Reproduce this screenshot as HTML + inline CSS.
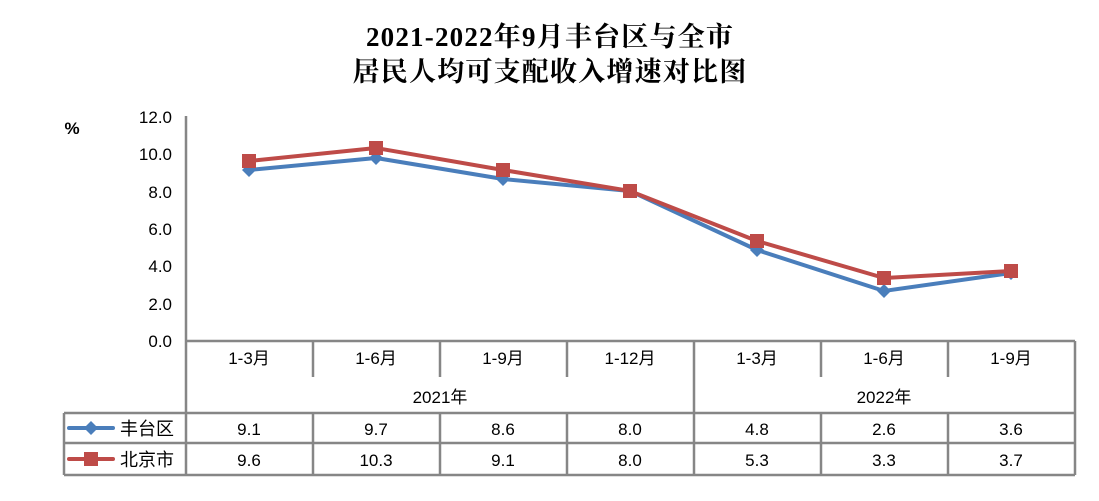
<!DOCTYPE html>
<html><head><meta charset="utf-8"><style>
body{margin:0;background:#fff;}
svg{display:block}
text{font-family:"Liberation Sans","Noto Sans CJK SC",sans-serif;fill:#000}
</style></head><body>
<svg width="1099" height="501" viewBox="0 0 1099 501" xmlns="http://www.w3.org/2000/svg">
<g font-size="27" font-weight="bold" text-anchor="middle" letter-spacing="1.2">
<text x="550" y="46" style="font-family:'Liberation Serif','Noto Serif CJK SC',serif">2021-2022年9月丰台区与全市</text>
<text x="550" y="81" style="font-family:'Liberation Serif','Noto Serif CJK SC',serif">居民人均可支配收入增速对比图</text>
</g>
<text x="72" y="134" font-size="17" font-weight="bold" text-anchor="middle">%</text>
<g font-size="17" text-anchor="end">
<text x="172" y="123">12.0</text><text x="172" y="160">10.0</text><text x="172" y="198">8.0</text>
<text x="172" y="235">6.0</text><text x="172" y="272">4.0</text><text x="172" y="310">2.0</text><text x="172" y="347">0.0</text>
</g>
<g stroke="#868686" stroke-width="2.5" fill="none">
<line x1="186" y1="116" x2="186" y2="475"/>
<line x1="186" y1="341" x2="1075" y2="341"/>
<line x1="1075" y1="341" x2="1075" y2="475"/>
<line x1="694" y1="341" x2="694" y2="413"/>
<line x1="313" y1="341" x2="313" y2="377"/><line x1="440" y1="341" x2="440" y2="377"/><line x1="567" y1="341" x2="567" y2="377"/>
<line x1="821" y1="341" x2="821" y2="377"/><line x1="948" y1="341" x2="948" y2="377"/>
<line x1="64" y1="413" x2="1075" y2="413"/><line x1="64" y1="443" x2="1075" y2="443"/><line x1="64" y1="475" x2="1075" y2="475"/>
<line x1="64" y1="413" x2="64" y2="475"/>
<line x1="313" y1="413" x2="313" y2="475"/><line x1="440" y1="413" x2="440" y2="475"/><line x1="567" y1="413" x2="567" y2="475"/>
<line x1="694" y1="413" x2="694" y2="475"/><line x1="821" y1="413" x2="821" y2="475"/><line x1="948" y1="413" x2="948" y2="475"/>
</g>
<g font-size="17" text-anchor="middle">
<text x="249" y="364">1-3月</text><text x="376" y="364">1-6月</text><text x="503" y="364">1-9月</text><text x="630" y="364">1-12月</text>
<text x="757" y="364">1-3月</text><text x="884" y="364">1-6月</text><text x="1011" y="364">1-9月</text>
<text x="440" y="403">2021年</text><text x="884" y="403">2022年</text>
<text x="249" y="435">9.1</text><text x="376" y="435">9.7</text><text x="503" y="435">8.6</text><text x="630" y="435">8.0</text><text x="757" y="435">4.8</text><text x="884" y="435">2.6</text><text x="1011" y="435">3.6</text>
<text x="249" y="466">9.6</text><text x="376" y="466">10.3</text><text x="503" y="466">9.1</text><text x="630" y="466">8.0</text><text x="757" y="466">5.3</text><text x="884" y="466">3.3</text><text x="1011" y="466">3.7</text>
</g>
<g font-size="18">
<text x="120" y="435">丰台区</text><text x="120" y="466">北京市</text>
</g>
<line x1="69" y1="428" x2="113" y2="428" stroke="#4a7ebb" stroke-width="4" stroke-linecap="round"/>
<polygon points="91,421 98,428 91,435 84,428" fill="#4a7ebb"/>
<line x1="69" y1="459" x2="113" y2="459" stroke="#be4b48" stroke-width="4" stroke-linecap="round"/>
<rect x="84" y="452" width="14" height="14" fill="#be4b48"/>
<polyline fill="none" stroke="#4a7ebb" stroke-width="4" stroke-linejoin="round" points="249,170 376,158 503,179 630,191 757,250 884,291 1011,273"/>
<g fill="#4a7ebb">
<polygon points="249,163 256,170 249,177 242,170"/><polygon points="376,151 383,158 376,165 369,158"/>
<polygon points="503,172 510,179 503,186 496,179"/><polygon points="630,184 637,191 630,198 623,191"/>
<polygon points="757,243 764,250 757,257 750,250"/><polygon points="884,284 891,291 884,298 877,291"/>
<polygon points="1011,266 1018,273 1011,280 1004,273"/>
</g>
<polyline fill="none" stroke="#be4b48" stroke-width="4" stroke-linejoin="round" points="249,161 376,148 503,170 630,191 757,241 884,278 1011,271"/>
<g fill="#be4b48">
<rect x="242" y="154" width="14" height="14"/><rect x="369" y="141" width="14" height="14"/>
<rect x="496" y="163" width="14" height="14"/><rect x="623" y="184" width="14" height="14"/>
<rect x="750" y="234" width="14" height="14"/><rect x="877" y="271" width="14" height="14"/>
<rect x="1004" y="264" width="14" height="14"/>
</g>
</svg>
</body></html>
